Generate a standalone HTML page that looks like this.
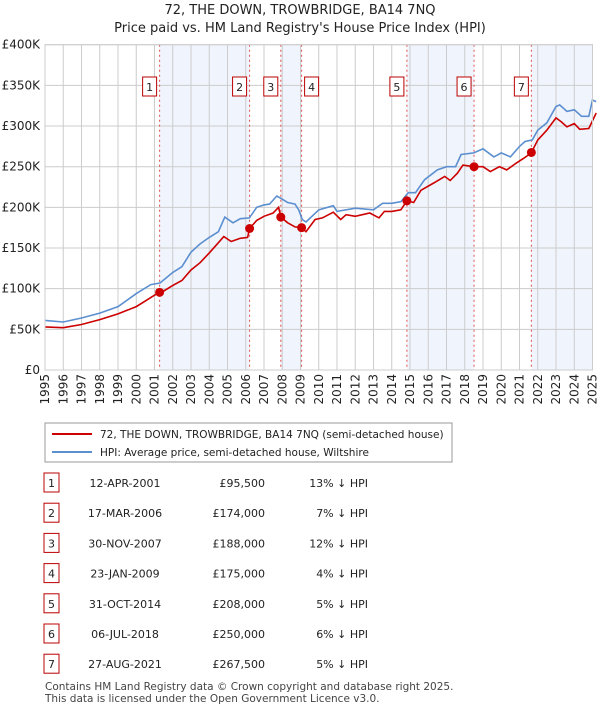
<!DOCTYPE html>
<html><head><meta charset="utf-8"><style>
body{margin:0;background:#fff;font-family:"Liberation Sans","DejaVu Sans",sans-serif;}
svg text{font-family:"DejaVu Sans","Liberation Sans",sans-serif;}
</style></head><body>
<svg id="c" width="600" height="710" xmlns="http://www.w3.org/2000/svg">
<text x="300" y="14" text-anchor="middle" font-size="13" fill="#222">72, THE DOWN, TROWBRIDGE, BA14 7NQ</text>
<text x="300" y="32" text-anchor="middle" font-size="13" fill="#222">Price paid vs. HM Land Registry's House Price Index (HPI)</text>
<g id="shade"></g><g id="grid"></g><g id="vlines"></g><g id="series"></g><g id="axes"></g>
<rect x="45" y="423" width="407" height="39" fill="#fff" stroke="#999"/>
<line x1="52" y1="434" x2="92" y2="434" stroke="#cc0000" stroke-width="2"/>
<text x="100" y="438" font-size="10.5" fill="#222">72, THE DOWN, TROWBRIDGE, BA14 7NQ (semi-detached house)</text>
<line x1="52" y1="452" x2="92" y2="452" stroke="#5b8fd0" stroke-width="2"/>
<text x="100" y="456" font-size="10.5" fill="#222">HPI: Average price, semi-detached house, Wiltshire</text>
<g id="table"></g>
<text x="45" y="690" font-size="10.5" fill="#444">Contains HM Land Registry data © Crown copyright and database right 2025.</text>
<text x="45" y="702" font-size="10.5" fill="#444">This data is licensed under the Open Government Licence v3.0.</text>
</svg>
<script>
const hpiYears=[1995,1996,1997,1998,1999,2000,2000.8,2001.3,2002,2002.5,2003,2003.5,2004,2004.5,2004.85,2005.3,2005.7,2006.2,2006.6,2007,2007.3,2007.7,2008,2008.3,2008.7,2008.9,2009.1,2009.3,2010,2010.8,2011,2012,2013,2013.5,2014,2014.5,2014.9,2015.3,2015.8,2016.5,2017,2017.5,2017.8,2018.5,2019,2019.6,2020,2020.5,2021,2021.3,2021.7,2022,2022.5,2023,2023.2,2023.6,2024,2024.4,2024.8,2025,2025.2];
const hpiVals=[61,59,64,70,78,94,105,107,120,127,145,155,163,170,188,181,186,187,200,203,204,214,210,206,204,197,185,182,197,202,195,199,197,205,205,207,218,218,234,246,250,250,265,267,272,262,267,262,275,281,283,295,304,324,326,318,320,312,312,332,330];
const ppYears=[1995,1996,1997,1998,1999,2000,2000.5,2001,2001.28,2001.5,2002,2002.5,2003,2003.5,2004,2004.8,2005.2,2005.7,2006.1,2006.21,2006.6,2007,2007.5,2007.8,2007.92,2008.3,2008.7,2009.06,2009.3,2009.8,2010.2,2010.8,2011.2,2011.5,2012,2012.8,2013.3,2013.6,2014,2014.5,2014.83,2015.2,2015.6,2016.3,2016.9,2017.2,2017.6,2017.9,2018.51,2019,2019.4,2019.9,2020.3,2020.8,2021.2,2021.4,2021.65,2022,2022.5,2023,2023.3,2023.6,2024,2024.3,2024.8,2025.2];
const ppVals=[53,52,56,62,69,78,85,92,95.5,97,104,110,123,132,144,164,158,162,163,174,184,189,193,200,188,181,176,175,170,185,187,194,185,191,189,193,187,195,195,197,208,206,221,230,238,233,242,252,250,250,244,250,246,254,260,263,267.5,283,295,310,305,299,303,296,297,316];
const saleYears=[2001.28,2006.21,2007.92,2009.06,2014.83,2018.51,2021.65];
const salePrices=[95.5,174,188,175,208,250,267.5];
const saleDates=["12-APR-2001","17-MAR-2006","30-NOV-2007","23-JAN-2009","31-OCT-2014","06-JUL-2018","27-AUG-2021"];
const salePriceLabels=["£95,500","£174,000","£188,000","£175,000","£208,000","£250,000","£267,500"];
const salePct=["13%","7%","12%","4%","5%","6%","5%"];
const yTicks=[0,50,100,150,200,250,300,350,400];
const yTickLabels=["£0","£50K","£100K","£150K","£200K","£250K","£300K","£350K","£400K"];
const NS="http://www.w3.org/2000/svg";
const X0=45,X1=592.5,Y0=370,Y1=44.7;
const xs=y=>X0+(y-1995)/30*(X1-X0);
const ys=v=>Y0-v/400*(Y0-Y1);
function mk(tag,attrs,parent,txt){const e=document.createElementNS(NS,tag);for(const k in attrs)e.setAttribute(k,attrs[k]);if(txt!=null)e.textContent=txt;document.getElementById(parent).appendChild(e);return e;}
const shadeSpans=[[0,1],[2,3],[4,5],[6,null]];
shadeSpans.forEach((s,i)=>{const a=xs(saleYears[s[0]]);const b=s[1]==null?X1:xs(saleYears[s[1]]);
const r=mk('rect',{x:a,y:Y1,width:b-a,height:Y0-Y1,fill:'#f0f4fc'},'shade');

});
for(let y=1995;y<=2025;y++){const l=mk('line',{x1:xs(y),x2:xs(y),y1:Y1,y2:Y0,stroke:'#ccc','stroke-width':1},'grid');


const t=mk('text',{x:0,y:0,'font-size':12,fill:'#222','text-anchor':'end',transform:`translate(${xs(y)+4},374) rotate(-90)`},'axes',String(y));

}
yTicks.forEach((v,i)=>{const l=mk('line',{x1:X0,x2:X1,y1:ys(v),y2:ys(v),stroke:'#ccc','stroke-width':1},'grid');


const t=mk('text',{x:40,y:ys(v)+4,'font-size':12,fill:'#222','text-anchor':'end'},'axes',yTickLabels[i]);

});
saleYears.forEach((y,i)=>{const l=mk('line',{x1:xs(y),x2:xs(y),y1:Y1,y2:Y0,stroke:'#e05050','stroke-width':1,'stroke-dasharray':'2,3'},'vlines');


const r=mk('rect',{x:(i==3?xs(y)+3:xs(y)-17),y:77,width:14,height:19,fill:'#fff',stroke:'#b00','stroke-width':1},'vlines');


const t=mk('text',{x:(i==3?xs(y)+10:xs(y)-10),y:91,'font-size':11,'text-anchor':'middle',fill:'#222'},'vlines',String(i+1));

});
const hp=mk('path',{d:hpiYears.map((y,i)=>(i?'L':'M')+xs(y).toFixed(1)+','+ys(hpiVals[i]).toFixed(1)).join(''),fill:'none',stroke:'#5b8fd0','stroke-width':1.6},'series');


const pp=mk('path',{d:ppYears.map((y,i)=>(i?'L':'M')+xs(y).toFixed(1)+','+ys(ppVals[i]).toFixed(1)).join(''),fill:'none',stroke:'#cc0000','stroke-width':1.6},'series');


saleYears.forEach((y,i)=>{const c=mk('circle',{cx:xs(y),cy:ys(salePrices[i]),r:4.5,fill:'#cc0000'},'series');

});
const ax=mk('rect',{x:X0,y:Y1,width:X1-X0,height:Y0-Y1,fill:'none',stroke:'#ccc'},'axes');


saleDates.forEach((d,i)=>{const cy=483+i*30.2;
const r=mk('rect',{x:44,y:cy-10,width:15,height:19,fill:'#fff',stroke:'#b00'},'table');


const n=mk('text',{x:51.5,y:cy+4,'font-size':11,'text-anchor':'middle',fill:'#222'},'table',String(i+1));


const t1=mk('text',{x:125,y:cy+4,'font-size':11,'text-anchor':'middle',fill:'#222'},'table',d);


const t2=mk('text',{x:265,y:cy+4,'font-size':11,'text-anchor':'end',fill:'#222'},'table',salePriceLabels[i]);


const t3=mk('text',{x:368,y:cy+4,'font-size':11,'text-anchor':'end',fill:'#222'},'table',salePct[i]+' ↓ HPI');

});
</script>
</body></html>
